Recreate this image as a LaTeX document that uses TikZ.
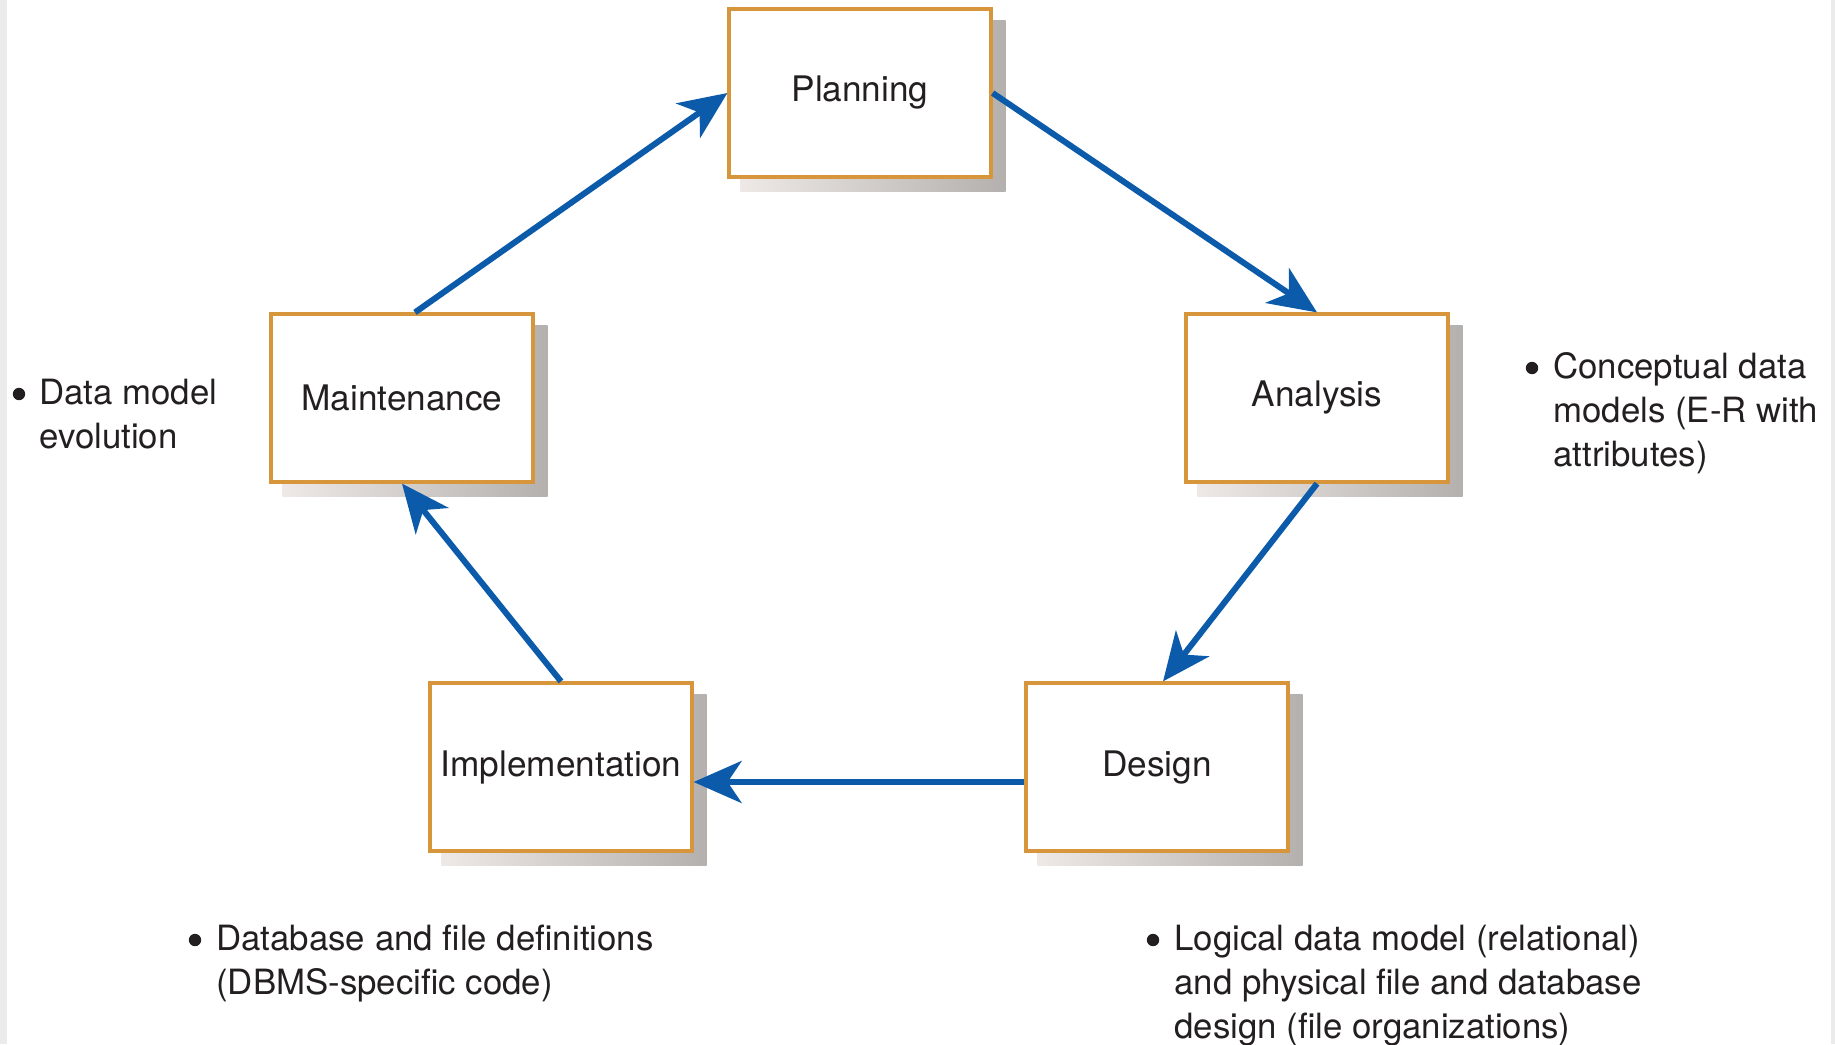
\documentclass[tikz,border=0pt]{standalone}
\usepackage{fontspec}
\setmainfont{TeX Gyre Heros}
\usetikzlibrary{arrows.meta,backgrounds}
\definecolor{boxorange}{HTML}{D8963C}
\definecolor{arrowblue}{HTML}{0B5BAA}
\definecolor{textdark}{HTML}{231F20}
\definecolor{shadowL}{HTML}{EEE9E7}
\definecolor{shadowR}{HTML}{B4B0AE}
\definecolor{edgegray}{HTML}{EBEBEB}
\begin{document}
\begin{tikzpicture}[x=0.5pt,y=-0.5pt,
  stage/.style={draw=boxorange, line width=1.6pt, fill=white, minimum width=131pt, minimum height=84pt, inner sep=0pt, text=textdark, font=\fontsize{17.6}{22}\selectfont},
  flow/.style={draw=arrowblue, line width=3pt, -{Stealth[length=24pt,width=21pt,inset=7pt]}},
  note/.style={anchor=base west, inner sep=0pt, align=left, text=textdark, font=\fontsize{17.4}{22}\selectfont},
  bul/.style={circle, fill=textdark, inner sep=0pt, minimum size=6.2pt}
]
\useasboundingbox (0,0) rectangle (1835,1044);

\node[stage] (plan)  at (860,93)   {Planning};
\node[stage] (maint) at (402,398)  {Maintenance};
\node[stage] (anal)  at (1317,398) {Analysis};
\node[stage] (impl)  at (561,767)  {Implementation};
\node[stage] (des)   at (1157,767) {Design};

\begin{scope}[on background layer]
\fill[edgegray] (0,0) rectangle (7,1044);
\fill[edgegray] (1831,0) rectangle (1835,1044);
\foreach \n in {plan,maint,anal,impl,des}{
  \shade[left color=shadowL, right color=shadowR]
    ([shift={(13,13)}]\n.south west) rectangle ([shift={(13,13)}]\n.north east);
}
\end{scope}

\draw[flow] (plan.east) -- (anal.north);
\draw[flow] (anal.south) -- ([xshift=3pt]des.north);
\draw[flow] ([yshift=-7.5pt]des.west) -- ([yshift=-7.5pt]impl.east);
\draw[flow] (impl.north) -- (maint.south);
\draw[flow] ([xshift=6.5pt]maint.north) -- (plan.west);

\node[bul] (b1) at (19,394) {};
\node[note] (n1) at (39,448) {Data model\\evolution};
\node[bul] (b2) at (1532,368) {};
\node[note] (n2) at (1553,466) {Conceptual data\\models (E-R with\\attributes)};
\node[bul] (b3) at (195,940) {};
\node[note] (n3) at (216,994) {Database and file definitions\\(DBMS-specific code)};
\node[bul] (b4) at (1153,940) {};
\node[note] (n4) at (1174,1038) {Logical data model (relational)\\and physical file and database\\design (file organizations)};
\end{tikzpicture}
\end{document}
